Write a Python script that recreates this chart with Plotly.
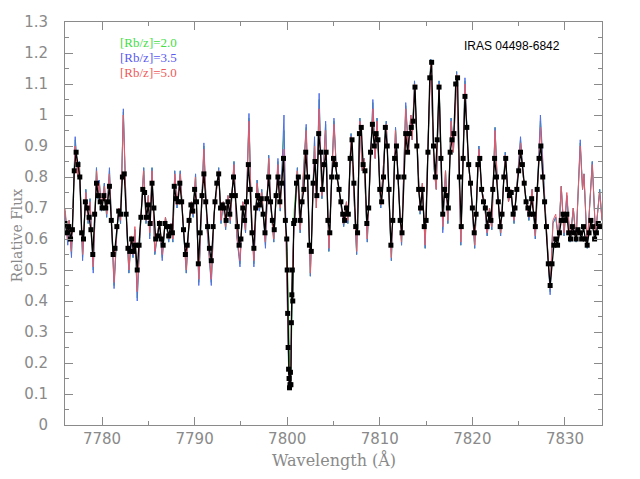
import plotly.graph_objects as go

# synthetic spectra: turning points (wavelength in Angstrom)
model_wave = [
    7776.00, 7776.30, 7776.45, 7776.70, 7777.10, 7777.40, 7777.55, 7777.90, 7778.25, 7778.50,
    7778.70, 7779.05, 7779.40, 7779.55, 7779.70, 7779.95, 7780.25, 7780.50, 7780.80, 7781.30,
    7781.60, 7781.80, 7782.00, 7782.30, 7782.65, 7782.90, 7783.15, 7783.35, 7783.55, 7783.80,
    7784.10, 7784.50, 7784.75, 7785.00, 7785.15, 7785.40, 7785.70, 7786.20, 7786.50, 7786.85,
    7787.20, 7787.45, 7787.65, 7787.85, 7788.10, 7788.45, 7788.75, 7789.10, 7789.40, 7789.65,
    7789.85, 7790.10, 7790.45, 7790.75, 7791.00, 7791.35, 7791.80, 7792.10, 7792.60, 7792.85,
    7793.10, 7793.35, 7793.60, 7793.85, 7794.25, 7794.55, 7794.90, 7795.20, 7795.50, 7795.87,
    7796.10, 7796.40, 7796.75, 7797.00, 7797.25, 7797.65, 7798.00, 7798.25, 7798.55, 7799.00,
    7799.25, 7799.65, 7799.85, 7800.00, 7800.10, 7800.20, 7800.30, 7800.40, 7800.50, 7800.60,
    7800.75, 7801.10, 7801.40, 7801.70, 7802.05, 7802.50, 7802.95, 7803.15, 7803.45, 7803.75,
    7804.15, 7804.50, 7805.05, 7805.35, 7805.60, 7806.10, 7806.40, 7806.55, 7806.90, 7807.50,
    7807.85, 7808.10, 7808.30, 7808.65, 7809.25, 7809.50, 7809.70, 7810.10, 7810.70, 7810.95,
    7811.25, 7811.70, 7812.00, 7812.35, 7812.80, 7813.10, 7813.35, 7813.50, 7813.75, 7814.05,
    7814.35, 7814.60, 7814.90, 7815.20, 7815.50, 7815.85, 7816.10, 7816.40, 7816.80, 7817.10,
    7817.35, 7817.70, 7817.95, 7818.30, 7818.75, 7819.20, 7819.55, 7819.85, 7820.25, 7820.70,
    7821.00, 7821.30, 7821.60, 7821.85, 7822.10, 7822.45, 7822.75, 7823.05, 7823.55, 7823.90,
    7824.15, 7824.50, 7824.85, 7825.20, 7825.50, 7825.80, 7826.10, 7826.45, 7826.80, 7827.35,
    7827.70, 7828.00, 7828.40, 7828.70, 7829.00, 7829.30, 7829.60, 7829.90, 7830.20, 7830.55,
    7830.90, 7831.20, 7831.65, 7831.90, 7832.05, 7832.40, 7832.95, 7833.30, 7833.75, 7834.00,
]
rb50_flux = [
    .70, .60, .66, .56, .90, .80, .84, .55, .75, .66,
    .72, .51, .82, .74, .78, .70, .77, .68, .81, .46,
    .63, .70, .66, 1.00, .66, .50, .61, .55, .64, .43,
    .62, .82, .66, .74, .62, .82, .56, .66, .55, .67,
    .60, .65, .60, .81, .71, .81, .66, .50, .66, .72,
    .68, .80, .47, .70, .89, .64, .47, .68, .82, .66,
    .72, .64, .74, .66, .84, .62, .53, .72, .63, .98,
    .72, .53, .78, .70, .75, .59, .86, .70, .60, .84,
    .70, .89, .62, .46, .25, .14, .13, .22, .40, .55,
    .64, .82, .63, .78, .95, .49, .90, .70, 1.02, .74,
    .95, .57, .97, .80, .76, .65, .72, .66, .93, .56,
    .98, .82, .86, .60, 1.02, .86, .98, .71, .97, .78,
    .54, .95, .78, .59, 1.02, .88, 1.00, .92, 1.10, .88,
    .69, .78, .58, .90, 1.17, .84, .76, 1.10, .64, .82,
    .66, .98, .88, 1.13, .59, 1.10, .85, .76, .58, .89,
    .76, .72, .62, .70, .64, .95, .74, .62, .87, .72,
    .76, .66, .78, .91, .80, .72, .67, .76, .61, .96,
    .78, .64, .44, .66, .68, .60, .77, .62, .75, .60,
    .70, .60, .90, .76, .81, .58, .84, .62, .75, .66,
]
rb35_flux = [
    .69, .58, .66, .54, .93, .80, .85, .53, .76, .65,
    .73, .49, .83, .73, .79, .69, .78, .67, .83, .44,
    .62, .70, .65, 1.02, .65, .49, .60, .54, .63, .40,
    .61, .83, .65, .74, .60, .83, .55, .66, .53, .67,
    .59, .65, .59, .82, .70, .82, .65, .49, .66, .72,
    .67, .81, .45, .70, .91, .63, .45, .68, .83, .65,
    .72, .63, .74, .65, .85, .61, .51, .72, .62, 1.005,
    .71, .51, .79, .69, .76, .57, .87, .70, .59, .86,
    .69, 1.00, .61, .45, .24, .13, .13, .21, .38, .54,
    .64, .83, .62, .79, .97, .48, .93, .70, 1.07, .73,
    .98, .56, .99, .80, .76, .64, .72, .65, .94, .55,
    .99, .82, .86, .59, 1.05, .86, .99, .70, .98, .78,
    .53, .96, .78, .58, 1.04, .88, 1.00, .92, 1.11, .88,
    .68, .78, .57, .90, 1.18, .83, .76, 1.11, .62, .82,
    .65, .99, .88, 1.14, .58, 1.12, .85, .76, .57, .90,
    .76, .72, .61, .70, .63, .96, .74, .61, .88, .72,
    .76, .65, .78, .93, .80, .72, .66, .76, .60, 1.00,
    .78, .63, .42, .65, .67, .60, .77, .61, .74, .59,
    .70, .59, .92, .76, .81, .57, .85, .61, .76, .66,
]
rb20_flux = [
    .69, .59, .66, .55, .92, .80, .85, .54, .76, .65,
    .73, .50, .83, .73, .79, .69, .78, .67, .82, .45,
    .62, .70, .65, 1.01, .65, .49, .60, .54, .63, .41,
    .61, .83, .65, .74, .61, .83, .55, .66, .54, .67,
    .59, .65, .59, .82, .70, .82, .65, .49, .66, .72,
    .67, .81, .46, .70, .90, .63, .46, .68, .83, .65,
    .72, .63, .74, .65, .85, .61, .52, .72, .62, .99,
    .71, .52, .79, .69, .76, .58, .87, .70, .59, .85,
    .69, .95, .62, .56, .42, .24, .15, .18, .30, .46,
    .69, .83, .62, .79, .96, .48, .92, .70, 1.05, .73,
    .97, .56, .98, .80, .76, .64, .72, .65, .94, .55,
    .99, .82, .86, .59, 1.04, .86, .99, .70, .98, .78,
    .53, .96, .78, .58, 1.03, .88, 1.00, .92, 1.11, .88,
    .68, .78, .57, .90, 1.18, .83, .76, 1.11, .63, .82,
    .65, .99, .88, 1.14, .58, 1.11, .85, .76, .57, .90,
    .76, .72, .61, .70, .63, .96, .74, .61, .88, .72,
    .76, .65, .78, .92, .80, .72, .66, .76, .60, .98,
    .78, .63, .43, .65, .67, .60, .77, .61, .74, .59,
    .70, .59, .91, .76, .81, .57, .85, .61, .76, .66,
]

# observed spectrum, sampled every 0.2 A from 7776.0
obs_start = 7776.0
obs_step = 0.2
obs_flux = [
    .65, .62, .64, .60, .63, .82, .88, .84, .80, .62,   # 7776
    .60, .72, .70, .67, .63, .55, .68, .78, .74, .72,   # 7778
    .70, .74, .70, .72, .77, .66, .55, .57, .64, .69,   # 7780
    .68, .80, .81, .68, .57, .56, .60, .56, .58, .50,   # 7782
    .58, .67, .76, .75, .67, .71, .65, .78, .70, .60,   # 7784
    .61, .65, .60, .58, .65, .64, .61, .64, .62, .77,   # 7786
    .73, .72, .78, .72, .63, .55, .58, .66, .71, .69,   # 7788
    .76, .72, .52, .62, .74, .81, .72, .64, .57, .53,   # 7790
    .64, .72, .78, .81, .70, .71, .70, .66, .72, .68,   # 7792
    .74, .80, .74, .64, .58, .60, .70, .66, .72, .84,   # 7794
    .76, .62, .57, .70, .74, .71, .73, .68, .62, .73,   # 7796
    .80, .72, .66, .63, .74, .80, .72, .78, .86, .66,   # 7798
    .50, .15, .13, .40, .66, .78, .80, .66, .72, .76,   # 7800
    .88, .80, .58, .56, .78, .85, .74, .94, .88, .76,   # 7802
    .84, .88, .66, .62, .80, .86, .84, .80, .76, .72,   # 7804
    .68, .66, .70, .68, .86, .92, .78, .64, .62, .94,   # 7806
    .96, .84, .82, .65, .70, .88, .97, .90, .94, .92,   # 7808
    .76, .72, .80, .96, .90, .76, .58, .66, .86, .90,   # 7810
    .80, .66, .62, .80, .94, .88, .94, .96, .98, 1.09,  # 7812
    .90, .76, .70, .76, .64, .66, .88, 1.12, 1.17, .90, # 7814
    .80, .92, 1.09, .86, .68, .76, .74, .70, .88, .92,  # 7816
    .94, 1.10, 1.12, .80, .64, .86, 1.06, .96, .84, .78, # 7818
    .70, .62, .68, .84, .86, .76, .72, .70, .64, .68,   # 7820
    .66, .76, .86, .80, .72, .64, .68, .80, .86, .76,   # 7822
    .74, .75, .68, .70, .76, .82, .88, .84, .78, .72,   # 7824
    .70, .68, .73, .68, .64, .76, .86, .90, .80, .72,   # 7826
    .64, .52, .45, .52, .58, .60, .58, .62, .66, .68,   # 7828
    .66, .68, .62, .60, .64, .62, .60, .63, .62, .60,   # 7830
    .64, .60, .58, .62, .66, .64, .60, .62, .65, .64,   # 7832
]
# extra observed points through the Rb I 7800 core
core_wave = [7799.95, 7800.05, 7800.10, 7800.15, 7800.25, 7800.30, 7800.35,
             7800.45, 7800.50, 7800.55, 7800.70]
core_flux = [.60, .36, .25, .18, .12, .13, .17, .33, .42, .50, .65]

obs_pts = sorted(zip([obs_start + obs_step * i for i in range(len(obs_flux))] + core_wave,
                     obs_flux + core_flux))
obs_wave = [p[0] for p in obs_pts]
obs_all = [p[1] for p in obs_pts]

axis_grey = "#8a8a8a"

fig = go.Figure()
fig.add_trace(go.Scatter(x=model_wave, y=rb20_flux, mode="lines",
                         line=dict(color="#3ccf3c", width=1)))
fig.add_trace(go.Scatter(x=model_wave, y=rb35_flux, mode="lines",
                         line=dict(color="#4f6fe8", width=1)))
fig.add_trace(go.Scatter(x=model_wave, y=rb50_flux, mode="lines",
                         line=dict(color="#e85a68", width=1)))
fig.add_trace(go.Scatter(x=obs_wave, y=obs_all, mode="lines+markers",
                         line=dict(color="black", width=1.3),
                         marker=dict(color="black", size=5, symbol="square")))

legend_items = [("[Rb/z]=2.0", "#44dd44"), ("[Rb/z]=3.5", "#5a5aee"), ("[Rb/z]=5.0", "#ee5a5a")]
for i, (txt, col) in enumerate(legend_items):
    fig.add_annotation(text=txt, x=0.099, y=0.948 - i * 0.037, xref="paper", yref="paper",
                       xanchor="left", yanchor="middle", showarrow=False,
                       font=dict(family="Liberation Serif", size=13, color=col))
fig.add_annotation(text="IRAS 04498-6842", x=0.832, y=0.940, xref="paper", yref="paper",
                   xanchor="center", yanchor="middle", showarrow=False,
                   font=dict(family="Liberation Sans", size=12, color="black"))
# axis titles
fig.add_annotation(text="Relative Flux", x=-0.09, y=0.47, xref="paper", yref="paper",
                   xanchor="center", yanchor="middle", showarrow=False, textangle=-90,
                   font=dict(family="DejaVu Serif", size=14, color=axis_grey))
fig.add_annotation(text="Wavelength (Å)", x=0.5, y=-0.087, xref="paper", yref="paper",
                   xanchor="center", yanchor="middle", showarrow=False,
                   font=dict(family="DejaVu Serif", size=16, color=axis_grey))

axis_common = dict(showgrid=False, zeroline=False, showline=True, mirror="ticks",
                   linecolor=axis_grey, linewidth=1, ticks="inside", tickcolor=axis_grey,
                   ticklen=8, automargin=False,
                   tickfont=dict(family="DejaVu Sans", size=15, color=axis_grey))
fig.update_xaxes(range=[7776, 7834], dtick=10,
                 minor=dict(dtick=5, ticklen=4, tickcolor=axis_grey, ticks="inside"),
                 **axis_common)
fig.update_yaxes(range=[0, 1.3], dtick=0.1,
                 minor=dict(dtick=0.05, ticklen=4, tickcolor=axis_grey, ticks="inside"),
                 ticklabelstandoff=13, **axis_common)

# page body adds an 8 px offset, so the figure is sized to fit the window
fig.update_layout(width=632, height=471, showlegend=False,
                  margin=dict(l=57, r=38, t=14, b=54),
                  plot_bgcolor="white", paper_bgcolor="white")

fig.write_html("out.html")
